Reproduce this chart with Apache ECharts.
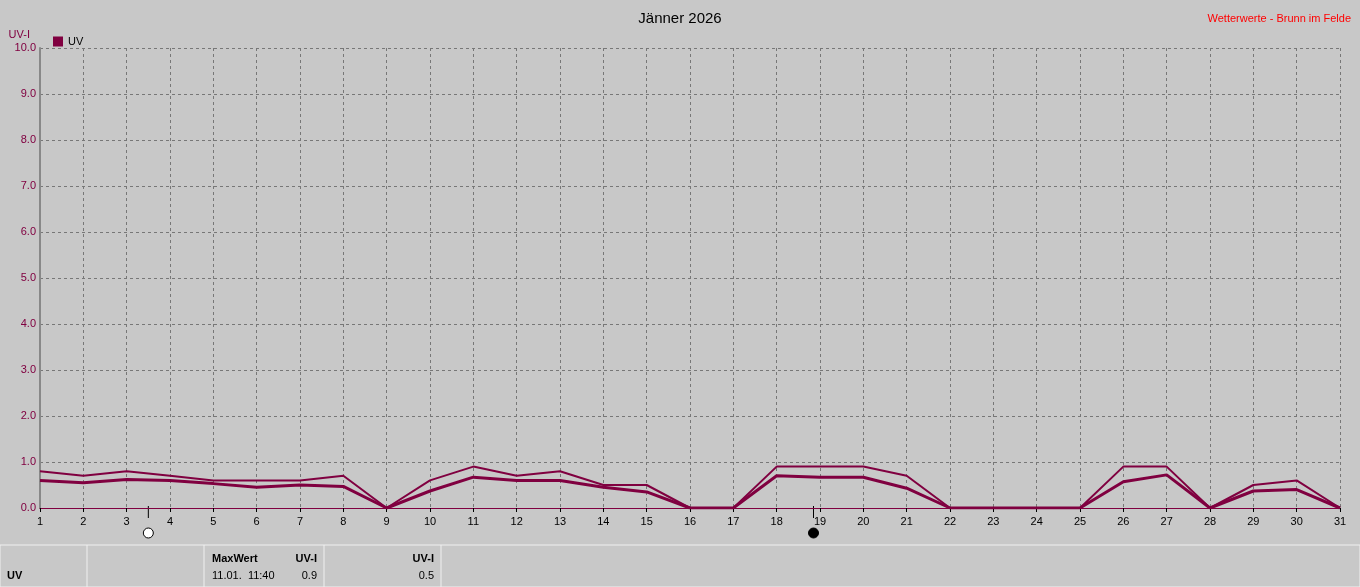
<!DOCTYPE html><html><head><meta charset="utf-8"><script src="https://cdn.jsdelivr.net/npm/echarts@6/dist/echarts.min.js"></script>
<style>body{margin:0;background:#c8c8c8}#c{width:1360px;height:587px}</style></head><body><div id="c"></div><script>
const days=[1,2,3,4,5,6,7,8,9,10,11,12,13,14,15,16,17,18,19,20,21,22,23,24,25,26,27,28,29,30,31];
const uvMax=[0.8,0.7,0.8,0.7,0.6,0.6,0.6,0.7,0,0.6,0.9,0.7,0.8,0.5,0.5,0,0,0.9,0.9,0.9,0.7,0,0,0,0,0.9,0.9,0,0.5,0.6,0];
const uvAvg=[0.6,0.55,0.62,0.6,0.53,0.45,0.5,0.47,0,0.37,0.67,0.6,0.6,0.45,0.35,0,0,0.7,0.67,0.67,0.43,0,0,0,0,0.57,0.72,0,0.37,0.4,0];
const moons=[[3.5,'open'],[18.85,'full']];
const C='#800040',F='Liberation Sans, Arial, sans-serif';
const ch=echarts.init(document.getElementById('c'));
const grid={left:40,right:20,top:48,bottom:79};
const opt={backgroundColor:'#c8c8c8',animation:false,grid,
title:[{text:'Jänner 2026',left:'center',top:6,textStyle:{fontFamily:F,fontSize:15,fontWeight:'normal',color:'#000'}},
{text:'Wetterwerte - Brunn im Felde',right:4,top:8,textStyle:{fontFamily:F,fontSize:11,fontWeight:'normal',color:'#ff0000'}}],
legend:{left:48,top:31,itemWidth:10,itemHeight:10,icon:'rect',data:['UV'],textStyle:{fontFamily:F,fontSize:11,color:'#000'}},
xAxis:{type:'value',min:1,max:31,interval:1,axisLine:{lineStyle:{color:C,width:1}},axisTick:{show:true,length:4,lineStyle:{color:'#000'}},
axisLabel:{color:'#000',fontFamily:F,fontSize:11,margin:8},splitLine:{show:true,lineStyle:{color:'#777',type:[3,3]}}},
yAxis:{type:'value',min:0,max:10,interval:1,name:'UV-I',nameLocation:'end',nameGap:8,nameTextStyle:{color:C,fontFamily:F,fontSize:11,align:'right',padding:[0,10,0,0]},
axisLine:{show:true,lineStyle:{color:'#888',width:2}},axisTick:{show:false},
axisLabel:{color:C,fontFamily:F,fontSize:11,formatter:v=>v.toFixed(1),margin:4},splitLine:{show:true,lineStyle:{color:'#777',type:[3,3]}}},
series:[{name:'UV',type:'line',data:days.map((d,i)=>[d,uvMax[i]]),symbol:'none',lineStyle:{color:C,width:2},itemStyle:{color:C}},
{name:'UVavg',type:'line',data:days.map((d,i)=>[d,uvAvg[i]]),symbol:'none',lineStyle:{color:C,width:3},itemStyle:{color:C}}]};
ch.setOption(opt);
const g=[];
moons.forEach(([d,t])=>{const p=ch.convertToPixel({xAxisIndex:0,yAxisIndex:0},[d,0]);
g.push({type:'line',shape:{x1:p[0],y1:p[1]-2,x2:p[0],y2:p[1]+10},style:{stroke:'#000',lineWidth:1}});
g.push({type:'circle',shape:{cx:p[0],cy:p[1]+25,r:5},style:{fill:t==='open'?'#fff':'#000',stroke:'#000',lineWidth:1}});});
g.push({type:'rect',shape:{x:0,y:545,width:1360,height:42},style:{fill:'#c8c8c8',stroke:'#f0f0f0',lineWidth:1}});
[87,204,324,441].forEach(x=>g.push({type:'line',shape:{x1:x,y1:545,x2:x,y2:587},style:{stroke:'#f0f0f0',lineWidth:1}}));
const T=(x,y,s,b,a)=>g.push({type:'text',x,y,style:{text:s,fill:'#000',font:(b?'bold ':'')+'11px '+F,align:a||'left'}});
T(7,570,'UV',true);T(212,553,'MaxWert',true);T(317,553,'UV-I',true,'right');T(212,570,'11.01.  11:40');T(317,570,'0.9',false,'right');
T(434,553,'UV-I',true,'right');T(434,570,'0.5',false,'right');
ch.setOption({graphic:g});
</script></body></html>
